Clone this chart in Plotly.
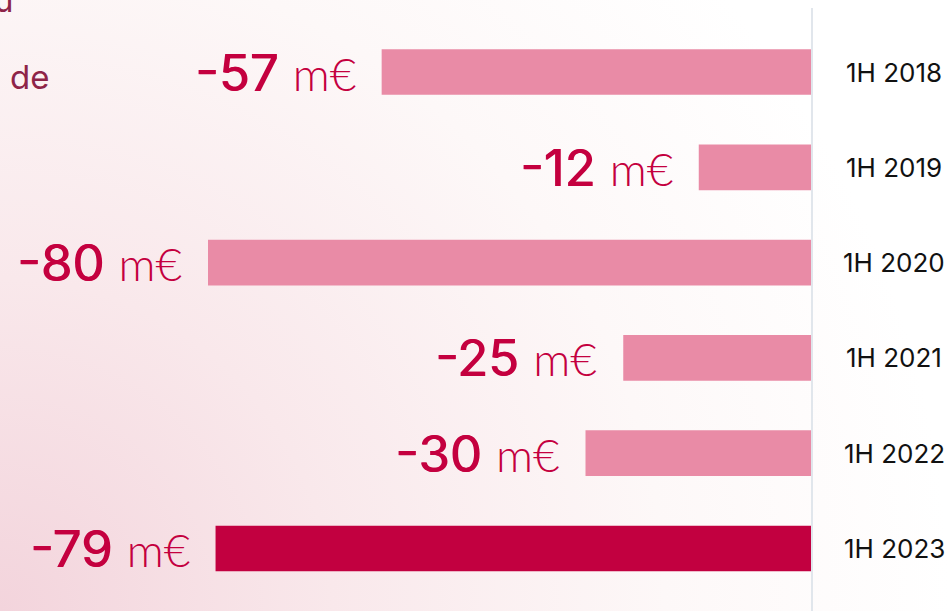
import plotly.graph_objects as go

# Données du graphique (résultat semestriel, en m€)
periodes = ["1H 2018", "1H 2019", "1H 2020", "1H 2021", "1H 2022", "1H 2023"]
longueurs = [57, 15, 80, 25, 30, 79]          # longueur des barres
etiquettes = ["-57", "-12", "-80", "-25", "-30", "-79"]
unite = "m€"

couleur_barre = "#e98ba6"
couleur_derniere = "#c20040"
couleur_texte = "#c4003f"
police = "Inter"

# Fond dégradé rose -> blanc (image SVG inline)
fond_svg = (
    "data:image/svg+xml;utf8,"
    "<svg xmlns='http://www.w3.org/2000/svg' width='952' height='611' preserveAspectRatio='none'>"
    "<defs><radialGradient id='g' cx='0' cy='611' r='950' gradientUnits='userSpaceOnUse'>"
    "<stop offset='0' stop-color='%23f3d4dc'/>"
    "<stop offset='0.35' stop-color='%23f9e8eb'/>"
    "<stop offset='0.7' stop-color='%23fdf8f8'/>"
    "<stop offset='1' stop-color='%23ffffff'/>"
    "</radialGradient></defs>"
    "<rect width='952' height='611' fill='url(%23g)'/></svg>"
)

couleurs = [couleur_barre] * (len(periodes) - 1) + [couleur_derniere]

barres = go.Bar(
    x=[-v for v in longueurs],
    y=periodes,
    orientation="h",
    marker=dict(color=couleurs, line=dict(width=0)),
    width=0.48,
    hoverinfo="skip",
)

fig = go.Figure(data=[barres])

# Etiquettes de valeurs à gauche des barres
for v, p, txt in zip(longueurs, periodes, etiquettes):
    fig.add_annotation(
        x=-v, y=p, xref="x", yref="y",
        text=f"<span style='text-shadow:1px 0 0 {couleur_texte}'>{txt}</span> "
             f"<span style='font-size:46px;font-family:Lato;font-weight:300'>{unite}</span>",
        showarrow=False, xanchor="right", yanchor="middle", xshift=-24,
        font=dict(family=police, size=51, color=couleur_texte, weight=400),
    )
    # libellé de période à droite
    fig.add_annotation(
        x=1, y=p, xref="paper", yref="y", xshift=82,
        text=p, showarrow=False, xanchor="center", yanchor="middle",
        font=dict(family=police, size=26, color="#111111"),
    )

# fragments de texte coupés à gauche
fig.add_annotation(
    x=0, y=1 - 77 / 611, xref="paper", yref="paper", xshift=8,
    text="de", showarrow=False, xanchor="left", yanchor="middle",
    font=dict(family=police, size=33, color="#8e2448"),
)
fig.add_annotation(
    x=0, y=1, xref="paper", yref="paper", xshift=-8, yshift=22,
    text="u", showarrow=False, xanchor="left", yanchor="top",
    font=dict(family=police, size=33, color="#8e2448"),
)

fig.update_layout(
    width=952, height=611,
    margin=dict(l=0, r=140, t=0, b=0),
    paper_bgcolor="white",
    plot_bgcolor="rgba(0,0,0,0)",
    showlegend=False,
    images=[dict(source=fond_svg, xref="paper", yref="paper",
                 x=0, y=1, sizex=952 / 812, sizey=1,
                 sizing="stretch", layer="below")],
    xaxis=dict(range=[-812 / 7.55, 0], visible=False, fixedrange=True),
    yaxis=dict(range=[5 + (611 - 548.5) / 95.3, -72 / 95.3], visible=False,
               categoryorder="array", categoryarray=periodes, fixedrange=True),
    shapes=[dict(type="line", xref="paper", yref="paper", x0=1, x1=1,
                 y0=0, y1=1 - 8 / 611, line=dict(color="#e1e6ec", width=2))],
)

fig.write_html("out.html", config={"displayModeBar": False},
               post_script="document.body.style.margin='0';")
